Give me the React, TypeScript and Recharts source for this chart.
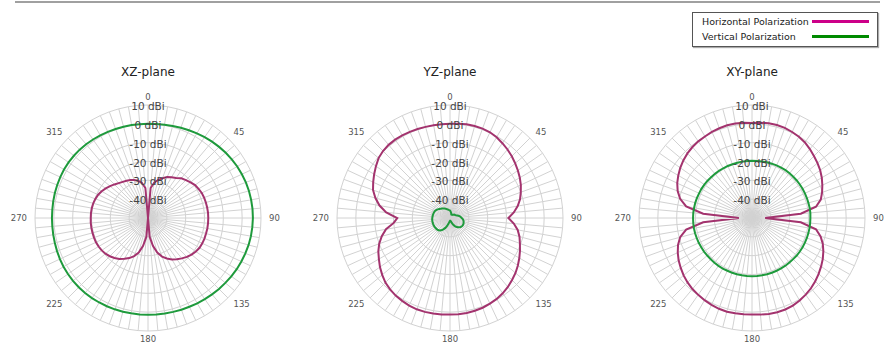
import React from 'react';
import { RadarChart, Radar, PolarGrid, PolarAngleAxis, PolarRadiusAxis } from 'recharts';

// angle categories, every 5 degrees, clockwise from the top
const angles = [
  '0', '5', '10', '15', '20', '25', '30', '35', '40', '45', '50', '55',
  '60', '65', '70', '75', '80', '85', '90', '95', '100', '105', '110', '115',
  '120', '125', '130', '135', '140', '145', '150', '155', '160', '165', '170', '175',
  '180', '185', '190', '195', '200', '205', '210', '215', '220', '225', '230', '235',
  '240', '245', '250', '255', '260', '265', '270', '275', '280', '285', '290', '295',
  '300', '305', '310', '315', '320', '325', '330', '335', '340', '345', '350', '355',
];

const labelAngles = ['0', '45', '90', '135', '180', '225', '270', '315'];

// XZ-plane (dBi)
const xzH = [
  -50, -34, -31, -29, -27.5, -26, -25, -24, -22.5, -21.5, -20.5, -19.5,
  -19, -18.5, -18.3, -18.2, -18.1, -18, -18, -18, -18, -18.1, -18.1, -18.2,
  -18.4, -19, -19.8, -20.8, -22, -23.3, -24.6, -26.3, -28.2, -31, -35, -40,
  -50, -40, -35, -31, -28.5, -26.5, -25, -23.5, -22.3, -21.3, -20.5, -20,
  -19.7, -19.5, -19.5, -19.5, -19.5, -19.5, -19.6, -19.6, -19.7, -19.9, -20.3, -20.8,
  -21.6, -22.6, -23.7, -24.8, -25.8, -26.6, -27.2, -27.8, -28.5, -29.5, -31, -34,
];
const xzV = [
  0, 0.1, 0.3, 0.6, 1, 1.4, 1.9, 2.4, 2.9, 3.4, 3.9, 4.3,
  4.7, 5, 5.3, 5.5, 5.6, 5.7, 5.7, 5.6, 5.5, 5.3, 5, 4.7,
  4.4, 4, 3.6, 3.3, 2.9, 2.6, 2.3, 2, 1.8, 1.6, 1.5, 1.4,
  1.4, 1.4, 1.4, 1.5, 1.6, 1.7, 1.8, 1.9, 2, 2, 2, 1.9,
  1.8, 1.6, 1.4, 1.2, 1.1, 1, 1, 1, 1.1, 1.2, 1.3, 1.4,
  1.5, 1.5, 1.4, 1.3, 1.1, 0.9, 0.7, 0.5, 0.3, 0.2, 0.1, 0,
];

// YZ-plane (dBi)
const yzH = [
  0, 0.3, 0.5, 0.6, 0.5, 0.2, -0.5, -1.5, -2.5, -3.6, -4.8, -6,
  -7.2, -8.5, -10, -11.5, -13.5, -16, -19, -16, -13.5, -11.8, -10.5, -9,
  -7.5, -6, -4.6, -3.4, -2.2, -1.2, -0.4, 0.2, 0.7, 1, 1.2, 1.3,
  1.3, 1.4, 1.5, 1.6, 1.6, 1.3, 0.8, 0.3, -0.5, -1.5, -3, -4.6,
  -6.4, -8, -10, -12.5, -15.5, -20, -22, -16, -12, -9, -6.5, -5,
  -3.5, -2, -0.5, 0.3, 0.7, 0.8, 0.7, 0.5, 0.3, 0.1, 0, 0,
];
const yzV = [
  -46, -46.5, -47, -47.5, -48, -48, -48, -48, -47.8, -47.5, -47.2, -47,
  -46.8, -46.5, -46, -45.3, -44.7, -44.3, -43.8, -43.2, -42.8, -42.5, -42.3, -42.2,
  -42.2, -42.3, -42.6, -43, -43.6, -44.3, -45.2, -46.2, -47.2, -48, -48.5, -48.5,
  -48.5, -48.3, -47.8, -46.8, -45.5, -44.2, -43, -42, -41.3, -41, -40.8, -40.7,
  -40.6, -40.5, -40.5, -40.5, -40.5, -40.5, -40.6, -40.7, -40.8, -40.9, -41, -41.2,
  -41.5, -42, -42.5, -43, -43.4, -43.8, -44.2, -44.6, -45, -45.3, -45.6, -45.8,
];

// XY-plane (dBi)
const xyH = [
  0.5, 0.8, 1.1, 1.1, 0.9, 0.4, -0.2, -1, -2.2, -3.5, -4.6, -5.8,
  -7.2, -8.8, -10.4, -12.2, -15.5, -24, -43, -24, -15.5, -12.3, -10, -8.2,
  -6.6, -5.2, -3.8, -2.5, -1.3, -0.3, 0.6, 1.3, 1.7, 1.8, 1.7, 1.5,
  1.3, 1.3, 1.4, 1.5, 1.3, 0.9, 0.4, -0.2, -0.8, -1.6, -2.6, -3.8,
  -5, -6.5, -8.2, -10.5, -14.5, -24, -43, -24, -14.5, -10.5, -8, -6.2,
  -4.8, -3.5, -2.4, -1.5, -0.8, -0.3, 0, 0.4, 0.7, 1, 1, 0.8,
];
const xyV = [
  -19.6, -19.6, -19.5, -19.4, -19.3, -19.2, -19.1, -19, -19, -19, -19, -19,
  -19, -19, -19, -19, -18.9, -18.9, -19, -19, -19, -19, -19, -19,
  -19, -19, -19, -19.1, -19.1, -19.1, -19.1, -19.1, -19.1, -19.1, -19.1, -19.1,
  -19.1, -19.1, -19.1, -19.1, -19.1, -19.1, -19, -19, -19, -19, -19, -18.9,
  -18.9, -18.8, -18.8, -18.7, -18.7, -18.7, -18.7, -18.7, -18.8, -18.8, -18.9, -19,
  -19, -19.1, -19.2, -19.3, -19.4, -19.4, -19.5, -19.5, -19.6, -19.6, -19.6, -19.6,
];

const planes = [
  { title: 'XZ-plane', h: xzH, v: xzV, center: 148 },
  { title: 'YZ-plane', h: yzH, v: yzV, center: 450 },
  { title: 'XY-plane', h: xyH, v: xyV, center: 752 },
];

const CX = 148;
const CY = 218;
const R = 113;
const FONT = '"DejaVu Sans", Verdana, sans-serif';

const AngleTick = (props: any) => {
  const label = String(props.payload.value);
  if (!labelAngles.includes(label)) return <g />;
  const a = (Number(label) * Math.PI) / 180;
  const r = R + 8;
  const s = Math.sin(a);
  const x = CX + r * s;
  const y = CY - r * Math.cos(a);
  const anchor = s > 0.1 ? 'start' : s < -0.1 ? 'end' : 'middle';
  return (
    <text x={x} y={y} textAnchor={anchor} dominantBaseline="central" fontSize={8.5} fill="#555" fontFamily={FONT}>
      {label}
    </text>
  );
};

const RingTick = (props: any) => {
  const v = props.payload.value;
  if (v === -50) return <g />;
  return (
    <text x={props.x} y={props.y + 1} textAnchor="middle" dominantBaseline="central" fontSize={10.5} fill="#444" fontFamily={FONT}>
      {`${v} dBi`}
    </text>
  );
};

const Plane = ({ title, h, v, center }: { title: string; h: number[]; v: number[]; center: number }) => {
  const data = angles.map((angle, i) => ({ angle, h: h[i], v: v[i] }));
  return (
    <div style={{ position: 'absolute', left: center - CX, top: 0, width: 296, height: 352 }}>
      <div style={{ position: 'absolute', left: 0, top: 65, width: 296, textAlign: 'center', fontSize: 12, color: '#222', fontFamily: FONT }}>
        {title}
      </div>
      <RadarChart width={296} height={352} data={data} cx={CX} cy={CY} outerRadius={R} margin={{ top: 0, right: 0, bottom: 0, left: 0 }}>
        <PolarGrid gridType="polygon" stroke="#d2d2d2" strokeWidth={1} />
        <PolarAngleAxis dataKey="angle" tick={AngleTick} tickLine={false} axisLine={false} />
        <PolarRadiusAxis angle={90} type="number" domain={[-50, 10]} tickCount={7} tick={RingTick} axisLine={false} tickLine={false} />
        <Radar dataKey="h" stroke="#a3336e" strokeWidth={2} fill="none" fillOpacity={0} dot={false} isAnimationActive={false} />
        <Radar dataKey="v" stroke="#1e9a3c" strokeWidth={2} fill="none" fillOpacity={0} dot={false} isAnimationActive={false} />
      </RadarChart>
    </div>
  );
};

export default function App() {
  return (
    <div style={{ position: 'absolute', left: 0, top: 0, width: 888, height: 352, background: '#fff', fontFamily: FONT }}>
      <div style={{ position: 'absolute', left: 15, top: 1, width: 865, height: 2, background: '#a0a0a0' }} />
      <div
        style={{
          position: 'absolute', left: 692, top: 12, width: 184, height: 33,
          border: '1px solid #555', boxShadow: '1px 1px 1px #aaa', fontSize: 9.5, color: '#222',
        }}
      >
        <div style={{ position: 'absolute', left: 9, top: 2, lineHeight: '14px' }}>Horizontal Polarization</div>
        <div style={{ position: 'absolute', left: 119, top: 7, width: 57, height: 3, background: '#cc0088' }} />
        <div style={{ position: 'absolute', left: 9, top: 17, lineHeight: '14px' }}>Vertical Polarization</div>
        <div style={{ position: 'absolute', left: 119, top: 22, width: 57, height: 3, background: '#008a00' }} />
      </div>
      {planes.map((p) => (
        <Plane key={p.title} {...p} />
      ))}
    </div>
  );
}
